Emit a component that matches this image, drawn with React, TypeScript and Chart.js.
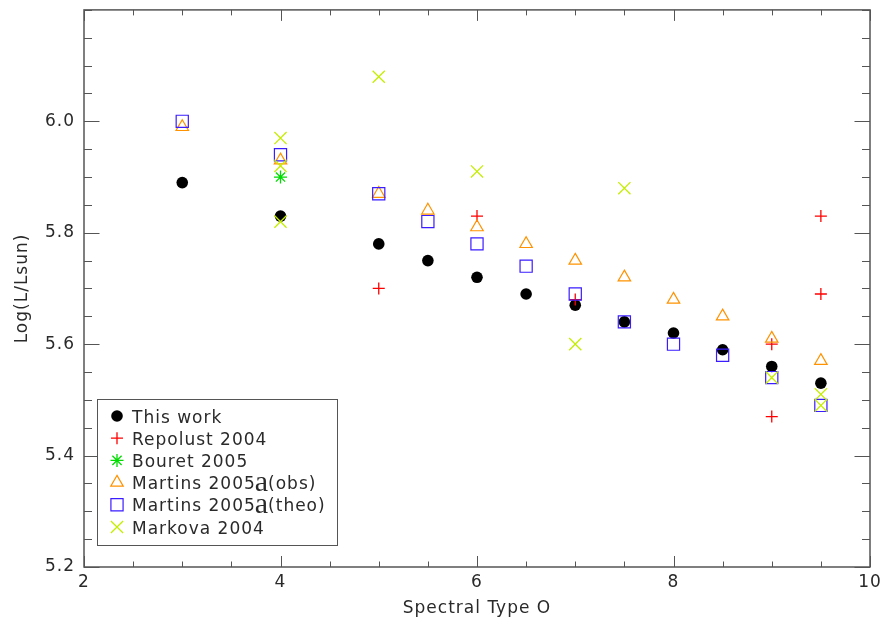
import React, { useEffect, useRef } from 'react';
import { Chart, registerables } from 'chart.js';
import { drawPoint } from 'chart.js/helpers';

Chart.register(...registerables);

// ---- data ----
const seriesLabels = [
  'This work',
  'Repolust 2004',
  'Bouret 2005',
  'Martins 2005a(obs)',
  'Martins 2005a(theo)',
  'Markova 2004',
];

const thisWorkX = [3, 4, 5, 5.5, 6, 6.5, 7, 7.5, 8, 8.5, 9, 9.5];
const thisWorkY = [5.89, 5.83, 5.78, 5.75, 5.72, 5.69, 5.67, 5.64, 5.62, 5.59, 5.56, 5.53];

const repolustX = [5, 6, 7, 9, 9, 9.5, 9.5];
const repolustY = [5.70, 5.83, 5.68, 5.60, 5.47, 5.83, 5.69];

const bouretX = [4];
const bouretY = [5.90];

const martinsObsX = [3, 4, 5, 5.5, 6, 6.5, 7, 7.5, 8, 8.5, 9, 9.5];
const martinsObsY = [5.99, 5.93, 5.87, 5.84, 5.81, 5.78, 5.75, 5.72, 5.68, 5.65, 5.61, 5.57];

const martinsTheoX = [3, 4, 5, 5.5, 6, 6.5, 7, 7.5, 8, 8.5, 9, 9.5];
const martinsTheoY = [6.00, 5.94, 5.87, 5.82, 5.78, 5.74, 5.69, 5.64, 5.60, 5.58, 5.54, 5.49];

const markovaX = [4, 4, 4, 5, 6, 7, 7.5, 9, 9.5, 9.5];
const markovaY = [5.97, 5.92, 5.82, 6.08, 5.91, 5.60, 5.88, 5.54, 5.51, 5.49];

const xTickValues = [2, 4, 6, 8, 10];
const yTickValues = [5.2, 5.4, 5.6, 5.8, 6.0];
const xMinorStep = 0.5;
const yMinorStep = 0.05;

const FONT = '"DejaVu Sans", sans-serif';
const TEXT_COLOR = '#2a2a2a';
const AXIS_COLOR = '#555';

const mk = (xs: number[], ys: number[]) => xs.map((x, i) => ({ x, y: ys[i] }));

const spacingPlugin = {
  id: 'spacing',
  beforeLayout(chart: any) {
    chart.ctx.letterSpacing = '1px';
  },
  beforeDraw(chart: any) {
    chart.ctx.letterSpacing = '1px';
  },
};

const framePlugin = {
  id: 'frame',
  beforeDatasetsDraw(chart: any) {
    const { ctx, chartArea: a, scales } = chart;
    const x = scales.x;
    const y = scales.y;
    ctx.save();
    ctx.strokeStyle = AXIS_COLOR;
    ctx.lineWidth = 1;
    const xMaj = 11, xMin = 5.5, yMaj = 15.5, yMin = 8;
    ctx.beginPath();
    for (let v = x.min; v <= x.max + 1e-9; v += xMinorStep) {
      const px = Math.round(x.getPixelForValue(v)) + 0.5;
      const major = xTickValues.some((t) => Math.abs(t - v) < 1e-9);
      const len = major ? xMaj : xMin;
      ctx.moveTo(px, a.bottom);
      ctx.lineTo(px, a.bottom - len);
      ctx.moveTo(px, a.top);
      ctx.lineTo(px, a.top + len);
    }
    for (let v = y.min; v <= y.max + 1e-9; v += yMinorStep) {
      const py = Math.round(y.getPixelForValue(v)) + 0.5;
      const major = yTickValues.some((t) => Math.abs(t - v) < 1e-9);
      const len = major ? yMaj : yMin;
      ctx.moveTo(a.left, py);
      ctx.lineTo(a.left + len, py);
      ctx.moveTo(a.right, py);
      ctx.lineTo(a.right - len, py);
    }
    ctx.stroke();
    ctx.lineWidth = 1.5;
    ctx.strokeRect(a.left, a.top, a.right - a.left, a.bottom - a.top);
    ctx.restore();
  },
};

const legendPlugin = {
  id: 'customLegend',
  afterDatasetsDraw(chart: any) {
    const { ctx } = chart;
    const boxL = 97.5, boxT = 399.5, boxW = 240, boxH = 146;
    ctx.save();
    ctx.fillStyle = '#fff';
    ctx.fillRect(boxL, boxT, boxW, boxH);
    ctx.strokeStyle = AXIS_COLOR;
    ctx.lineWidth = 1;
    ctx.strokeRect(boxL, boxT, boxW, boxH);
    const rowY0 = 416;
    const rowStep = 22.2;
    chart.data.datasets.forEach((ds: any, i: number) => {
      const cy = rowY0 + i * rowStep;
      ctx.save();
      ctx.strokeStyle = ds.borderColor;
      ctx.fillStyle = ds.backgroundColor;
      ctx.lineWidth = ds.borderWidth;
      drawPoint(ctx, { pointStyle: ds.pointStyle, radius: ds.pointRadius, rotation: 0, borderWidth: ds.borderWidth } as any, 117, cy);
      ctx.restore();
      // text
      ctx.fillStyle = TEXT_COLOR;
      ctx.textBaseline = 'alphabetic';
      ctx.textAlign = 'left';
      ctx.letterSpacing = '1px';
      const base = cy + 6.5;
      const label: string = ds.label;
      const m = label.match(/^(.*\d)a(\(.*)$/);
      let tx = 132;
      if (m) {
        ctx.font = `17px ${FONT}`;
        ctx.fillText(m[1], tx, base);
        tx += ctx.measureText(m[1]).width;
        ctx.font = `30px "Liberation Serif", "DejaVu Serif", serif`;
        ctx.letterSpacing = '0px';
        ctx.fillText('a', tx - 1, base + 1.5);
        tx += ctx.measureText('a').width - 1;
        ctx.letterSpacing = '1px';
        ctx.font = `17px ${FONT}`;
        ctx.fillText(m[2], tx, base);
      } else {
        ctx.font = `17px ${FONT}`;
        ctx.fillText(label, tx, base);
      }
    });
    ctx.restore();
  },
};

export default function App() {
  const ref = useRef<HTMLCanvasElement>(null);
  useEffect(() => {
    if (!ref.current) return;
    const chart = new Chart(ref.current, {
      type: 'scatter',
      data: {
        datasets: [
          {
            label: seriesLabels[0],
            data: mk(thisWorkX, thisWorkY),
            pointStyle: 'circle',
            pointRadius: 5.8,
            backgroundColor: '#000',
            borderColor: '#000',
            borderWidth: 0,
            order: 6,
          },
          {
            label: seriesLabels[1],
            data: mk(repolustX, repolustY),
            pointStyle: 'cross',
            pointRadius: 6,
            backgroundColor: 'rgba(0,0,0,0)',
            borderColor: '#ff0000',
            borderWidth: 1.3,
            order: 5,
          },
          {
            label: seriesLabels[2],
            data: mk(bouretX, bouretY),
            pointStyle: 'star',
            pointRadius: 6.5,
            backgroundColor: 'rgba(0,0,0,0)',
            borderColor: '#00dd00',
            borderWidth: 1.3,
            order: 4,
          },
          {
            label: seriesLabels[3],
            data: mk(martinsObsX, martinsObsY),
            pointStyle: 'triangle',
            pointRadius: 7.2,
            backgroundColor: 'rgba(0,0,0,0)',
            borderColor: '#ff9200',
            borderWidth: 1.2,
            order: 3,
          },
          {
            label: seriesLabels[4],
            data: mk(martinsTheoX, martinsTheoY),
            pointStyle: 'rect',
            pointRadius: 8.6,
            backgroundColor: 'rgba(0,0,0,0)',
            borderColor: '#3a1cff',
            borderWidth: 1.2,
            order: 2,
          },
          {
            label: seriesLabels[5],
            data: mk(markovaX, markovaY),
            pointStyle: 'crossRot',
            pointRadius: 8.6,
            backgroundColor: 'rgba(0,0,0,0)',
            borderColor: '#c4ee00',
            borderWidth: 1.3,
            order: 1,
          },
        ],
      },
      options: {
        animation: false,
        responsive: true,
        maintainAspectRatio: false,
        layout: { padding: { top: 7, right: 17, left: 0, bottom: 0 } },
        plugins: {
          legend: { display: false },
          tooltip: { enabled: false },
        },
        scales: {
          x: {
            type: 'linear',
            min: 2,
            max: 10,
            grid: { display: false, drawTicks: false },
            border: { display: false },
            afterBuildTicks: (scale: any) => {
              scale.ticks = xTickValues.map((v) => ({ value: v }));
            },
            afterFit: (scale: any) => {
              scale.height = 60;
              scale.paddingLeft = 0;
              scale.paddingRight = 0;
            },
            ticks: {
              padding: 5,
              color: TEXT_COLOR,
              font: { family: FONT, size: 17 },
              maxRotation: 0,
              autoSkip: false,
              callback: (v: any) => String(v),
            },
            title: {
              display: true,
              text: 'Spectral Type O',
              color: TEXT_COLOR,
              font: { family: FONT, size: 17 },
              padding: { top: 0, bottom: 8 },
            },
          },
          y: {
            type: 'linear',
            min: 5.2,
            max: 6.2,
            grid: { display: false, drawTicks: false },
            border: { display: false },
            afterBuildTicks: (scale: any) => {
              scale.ticks = yTickValues.map((v) => ({ value: v }));
            },
            afterFit: (scale: any) => {
              scale.width = 84;
              scale.paddingTop = 0;
              scale.paddingBottom = 0;
            },
            ticks: {
              padding: 9,
              color: TEXT_COLOR,
              font: { family: FONT, size: 17 },
              autoSkip: false,
              callback: (v: any) => Number(v).toFixed(1),
            },
            title: {
              display: true,
              text: 'Log(L/Lsun)',
              color: TEXT_COLOR,
              font: { family: FONT, size: 17 },
              padding: { top: 12, bottom: 0 },
            },
          },
        },
      },
      plugins: [spacingPlugin, framePlugin, legendPlugin],
    } as any);
    return () => chart.destroy();
  }, []);
  return (
    <div style={{ position: 'fixed', left: 0, top: 0, width: 887, height: 627, background: '#fff' }}>
      <canvas ref={ref} />
    </div>
  );
}
